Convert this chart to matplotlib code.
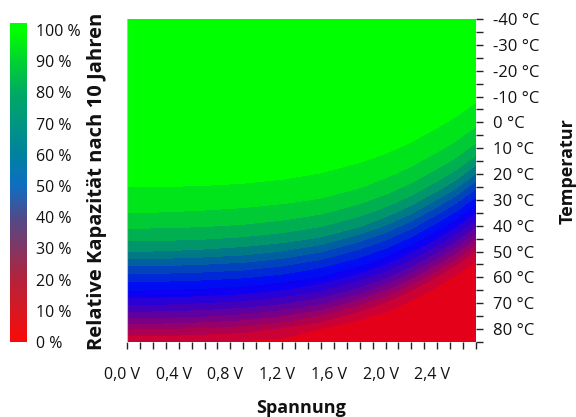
import numpy as np
import matplotlib
matplotlib.use("Agg")
import matplotlib.pyplot as plt
import matplotlib.transforms as mtransforms
from matplotlib.colors import LinearSegmentedColormap

plt.rcParams['font.family'] = ['Open Sans', 'DejaVu Sans']

# ---- data ----
voltages = [0.0, 0.3, 0.6, 0.9, 1.2, 1.5, 1.8, 2.0, 2.2, 2.4, 2.55, 2.7]
temperatures = [-40, -20, -10, -5, 0, 5, 10, 15, 20, 25, 30, 35, 40, 45,
                50, 55, 60, 65, 70, 75, 80, 85]
capacity = [
    [100, 100, 100, 100, 100, 100, 100, 100, 100, 100, 100, 100],      # -40
    [100, 100, 100, 100, 100, 100, 100, 100, 100, 100, 100, 100],      # -20
    [100, 100, 100, 100, 100, 100, 100, 100, 100, 100, 98.75, 96],     # -10
    [100, 100, 100, 100, 100, 100, 100, 100, 100, 98.5, 96.25, 93.5],  # -5
    [100, 100, 100, 100, 100, 100, 100, 100, 98.75, 96, 93.75, 91],    # 0
    [100, 100, 100, 100, 100, 100, 100, 98.5, 96.25, 93.5, 91.25, 87.6],  # 5
    [100, 100, 100, 100, 100, 99.75, 97.75, 96, 93.75, 91, 88, 83],    # 10
    [100, 100, 99.7, 99.25, 98.5, 97.25, 95.25, 93.5, 91.25, 87.6, 83.5, 77.4],  # 15
    [97.5, 97.4, 97.2, 96.75, 96, 94.75, 92.75, 91, 88, 83, 78, 69.6],  # 20
    [95, 94.9, 94.7, 94.25, 93.5, 92.25, 90.25, 87.6, 83.5, 77.4, 70.5, 60.9],  # 25
    [92.5, 92.4, 92.2, 91.75, 91, 89.6, 86.4, 83, 78, 69.6, 61.75, 53],  # 30
    [90, 89.8, 89.4, 88.8, 87.6, 85.5, 81.5, 77.4, 70.5, 60.9, 53.75, 44.6],  # 35
    [86, 85.8, 85.3, 84.5, 83, 80.4, 75.6, 69.6, 61.75, 53, 45.5, 35.3],  # 40
    [81, 80.8, 80.2, 79.2, 77.4, 74.1, 66.9, 60.9, 53.75, 44.6, 36.25, 24.6],  # 45
    [75, 74.6, 73.7, 72.3, 69.6, 65.2, 58.4, 53, 45.5, 35.3, 25.75, 14],  # 50
    [66, 65.7, 64.8, 63.5, 60.9, 56.8, 50.8, 44.6, 36.25, 24.6, 15, 8.2],  # 55
    [57.5, 57.2, 56.5, 55.3, 53, 49.1, 41.9, 35.3, 25.75, 14, 8.5, 7],  # 60
    [50, 49.6, 48.7, 47.3, 44.6, 40.1, 32.5, 24.6, 15, 8.2, 7, 7],      # 65
    [41, 40.6, 39.7, 38.2, 35.3, 30.4, 21.2, 14, 8.5, 7, 7, 7],         # 70
    [31.5, 31.0, 29.9, 28.1, 24.6, 19.0, 11, 8.2, 7, 7, 7, 7],          # 75
    [20, 19.6, 18.6, 17.0, 14, 9.7, 7.3, 7, 7, 7, 7, 7],                # 80
    [10.5, 10.2, 9.6, 9.1, 8.2, 7, 7, 7, 7, 7, 7, 7],                   # 85
]
levels = list(range(0, 105, 5))
x_ticks = [round(0.1 * i, 1) for i in range(28)]
x_labels = ['0,0 V', '0,4 V', '0,8 V', '1,2 V', '1,6 V', '2,0 V', '2,4 V']
y_ticks = list(range(-40, 90, 5))
y_labels = ['-40 °C', '-30 °C', '-20 °C', '-10 °C', '0 °C', '10 °C', '20 °C',
            '30 °C', '40 °C', '50 °C', '60 °C', '70 °C', '80 °C']
cbar_ticks = list(range(0, 101, 10))
cbar_labels = ['%d %%' % v for v in cbar_ticks]

# ---- figure ----
W, H = 576, 417
fig = plt.figure(figsize=(W / 100, H / 100), dpi=100)

def rect(x0, y0, x1, y1):
    return [x0 / W, 1 - y1 / H, (x1 - x0) / W, (y1 - y0) / H]

map_cmap = LinearSegmentedColormap.from_list(
    'rbg', [(0, (1, 0, 0)), (0.5, (0, 0, 1)), (1, (0, 1, 0))])
bar_cmap = LinearSegmentedColormap.from_list(
    'rbg_bar', [(0.0, '#fa0a0a'), (0.1, '#d71923'), (0.2, '#b4233c'),
                (0.3, '#823764'), (0.4, '#504b8c'), (0.5, '#0f6ec3'),
                (0.6, '#0082a0'), (0.7, '#009682'), (0.8, '#00aa64'),
                (0.9, '#00d232'), (1.0, '#00ff00')])

ax = fig.add_axes(rect(127, 19, 476, 342))
band_colors = map_cmap(np.linspace(0, 1, len(levels) - 1))
ax.contourf(voltages, temperatures, np.array(capacity), levels=levels,
            colors=band_colors, antialiased=False)
ax.set_xlim(0, 2.7)
ax.set_ylim(85, -40)

ax.set_xticks(x_ticks)
ax.set_xticklabels([x_labels[i // 4] if i % 4 == 0 else '' for i in range(len(x_ticks))])
ax.yaxis.tick_right()
ax.yaxis.set_label_position('right')
ax.set_yticks(y_ticks)
ax.set_yticklabels([y_labels[i // 2] if i % 2 == 0 else '' for i in range(len(y_ticks))])
ax.tick_params(axis='both', direction='out', length=5, width=1, color='#222222',
               labelsize=11.5, labelcolor='#111111')
ax.tick_params(axis='x', pad=13)
ax.tick_params(axis='y', pad=7.5, labelsize=12)
shift = mtransforms.ScaledTranslation(-5 / 100, 0, fig.dpi_scale_trans)
for lab in ax.get_xticklabels():
    lab.set_transform(lab.get_transform() + shift)
for s in ['top', 'right', 'bottom']:
    ax.spines[s].set_visible(False)
ax.spines['left'].set_color('#c0c0c0')
ax.spines['left'].set_linewidth(0.8)

fig.text(301 / W, 1 - 408 / H, 'Spannung', ha='center', va='center',
         fontsize=13, fontweight='bold', color='#111111')
fig.text(568 / W, 1 - 171 / H, 'Temperatur', ha='center', va='center',
         rotation=90, fontsize=13, fontweight='bold', color='#111111')

# ---- colour bar ----
cax = fig.add_axes(rect(10, 23, 27, 342))
top = 100 * 319 / 312
grad = np.clip(np.linspace(0, top, 400), 0, 100)[:, None] / 100
cax.imshow(bar_cmap(grad), aspect='auto', origin='lower', extent=[0, 1, 0, top])
cax.set_xlim(0, 1)
cax.set_ylim(0, top)
cax.set_xticks([])
cax.yaxis.tick_right()
cax.set_yticks(cbar_ticks)
cax.set_yticklabels(cbar_labels)
cax.tick_params(axis='y', length=0, pad=6.5, labelsize=11.5, labelcolor='#111111')
for s in cax.spines.values():
    s.set_visible(False)

fig.text(97 / W, 1 - 181 / H, 'Relative Kapazität nach 10 Jahren', ha='center',
         va='center', rotation=90, fontsize=14.5, fontweight='bold', color='#111111')

fig.savefig('out.png', dpi=100)
